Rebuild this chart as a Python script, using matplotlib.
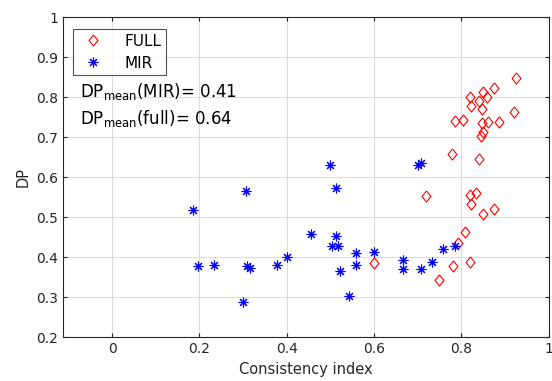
import numpy as np
import matplotlib
matplotlib.use("Agg")
import matplotlib.pyplot as plt

# FULL points (consistency index, DP)
full_ci = [0.926, 0.876, 0.850, 0.819, 0.860, 0.841, 0.823, 0.847, 0.920, 0.786,
           0.805, 0.847, 0.861, 0.886, 0.850, 0.846, 0.779, 0.841, 0.720, 0.819,
           0.833, 0.823, 0.876, 0.850, 0.809, 0.793, 0.781, 0.819, 0.748, 0.600]
full_dp = [0.849, 0.822, 0.812, 0.800, 0.800, 0.790, 0.779, 0.771, 0.764, 0.741,
           0.743, 0.735, 0.739, 0.738, 0.712, 0.703, 0.658, 0.645, 0.553, 0.556,
           0.560, 0.533, 0.520, 0.508, 0.462, 0.435, 0.378, 0.387, 0.343, 0.385]

# MIR points
mir_ci = [0.186, 0.308, 0.500, 0.513, 0.455, 0.513, 0.503, 0.518, 0.560, 0.600,
          0.560, 0.523, 0.542, 0.400, 0.377, 0.310, 0.317, 0.234, 0.196, 0.300,
          0.667, 0.667, 0.707, 0.732, 0.758, 0.785, 0.700, 0.708]
mir_dp = [0.518, 0.566, 0.631, 0.574, 0.457, 0.453, 0.428, 0.428, 0.410, 0.414,
          0.381, 0.366, 0.302, 0.400, 0.381, 0.377, 0.372, 0.381, 0.377, 0.288,
          0.393, 0.371, 0.371, 0.388, 0.420, 0.429, 0.631, 0.636]

txt = '#262626'
# MATLAB-like diamond (slightly taller than wide)
diamond = [(0, 1), (0.8, 0), (0, -1), (-0.8, 0), (0, 1)]

fig = plt.figure(figsize=(5.52, 3.81), dpi=100)
ax = fig.add_axes([0.1136, 0.1147, 0.8801, 0.8399])

ax.plot(full_ci, full_dp, linestyle='none', marker=diamond, markersize=8,
        markerfacecolor='none', markeredgecolor='red', markeredgewidth=0.8,
        label='FULL', zorder=3)
ax.plot(mir_ci, mir_dp, linestyle='none', marker=(8, 2, 0), markersize=7,
        markeredgecolor='blue', markeredgewidth=0.8, color='blue',
        label='MIR', zorder=3)

ax.set_xlim(-0.113, 1.0)
ax.set_ylim(0.2, 1.0)
ax.set_xticks([0, 0.2, 0.4, 0.6, 0.8, 1])
ax.set_xticklabels(['0', '0.2', '0.4', '0.6', '0.8', '1'])
ax.set_yticks(np.arange(2, 11) / 10)
ax.set_yticklabels(['0.2', '0.3', '0.4', '0.5', '0.6', '0.7', '0.8', '0.9', '1'])
ax.grid(True, color='#dcdcdc', linewidth=0.8)
ax.set_axisbelow(True)
ax.tick_params(direction='in', top=True, right=True, labelsize=10,
               colors=txt, length=3, width=0.8)
for s in ax.spines.values():
    s.set_color(txt)
    s.set_linewidth(0.8)

ax.set_xlabel('Consistency index', fontsize=10.5, color=txt, labelpad=4)
ax.set_ylabel('DP', fontsize=10.5, color=txt)

leg = ax.legend(loc='upper left', bbox_to_anchor=(0.021, 0.963), fontsize=11,
                frameon=True, fancybox=False, handlelength=2.0,
                borderpad=0.3, labelspacing=0.45, handletextpad=1.1,
                borderaxespad=0)
leg.get_frame().set_edgecolor(txt)
leg.get_frame().set_linewidth(0.8)

ax.text(0.035, 0.752, r'DP$_{\mathrm{mean}}$(MIR)= 0.41', transform=ax.transAxes,
        fontsize=12, color='black', va='baseline')
ax.text(0.035, 0.667, r'DP$_{\mathrm{mean}}$(full)= 0.64', transform=ax.transAxes,
        fontsize=12, color='black', va='baseline')

fig.savefig('out.png', dpi=100)
